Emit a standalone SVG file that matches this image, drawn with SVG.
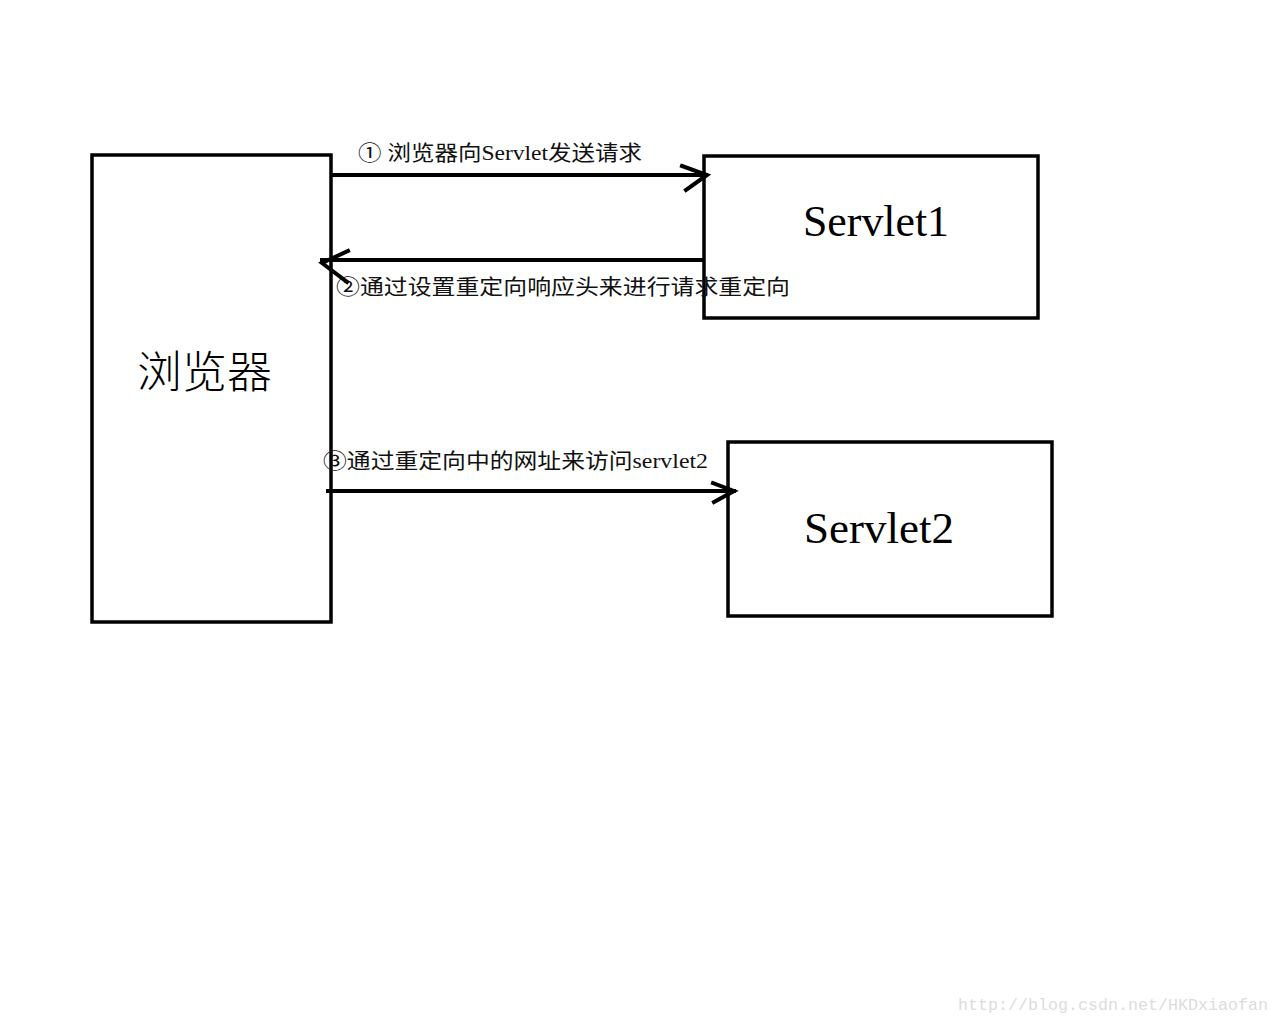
<svg xmlns="http://www.w3.org/2000/svg" width="1280" height="1024" viewBox="0 0 1280 1024">
<style>
.box{fill:#fff;stroke:#000;stroke-width:3.5}
.ln{fill:none;stroke:#000;stroke-width:4;stroke-linecap:square}
.lbl{font-family:"Liberation Serif","Noto Sans CJK SC",serif;font-size:21px;fill:#111}
.big{font-family:"Liberation Serif","Noto Sans CJK SC",serif;font-size:44px;fill:#000}
.wm{font-family:"Liberation Mono",monospace;font-size:17px;fill:#dcdcdc}
</style>
<rect width="1280" height="1024" fill="#fff"/>
<g id="browser">
<rect class="box" x="92" y="155" width="239" height="467"/>
<text class="big" x="137" y="388" font-size="40" textLength="135" lengthAdjust="spacingAndGlyphs" style="font-weight:300">浏览器</text>
</g>
<g id="servlet1">
<rect class="box" x="704" y="156" width="334" height="162"/>
<text class="big" x="803" y="236" textLength="146" lengthAdjust="spacingAndGlyphs">Servlet1</text>
</g>
<g id="servlet2">
<rect class="box" x="728" y="442" width="324" height="174"/>
<text class="big" x="804" y="543" textLength="150" lengthAdjust="spacingAndGlyphs">Servlet2</text>
</g>
<g id="connectors">
<path class="ln" d="M333 175 H706 M682 166 L707 175 L686 190"/>
<path class="ln" d="M702 260 H322 M348 251 L322 263 L347 282"/>
<path class="ln" d="M328 491 H734 M713 483 L734 491 L714 502"/>
</g>
<g id="labels">
<text class="lbl" x="358" y="160" textLength="284" lengthAdjust="spacingAndGlyphs">① 浏览器向Servlet发送请求</text>
<text class="lbl" x="336" y="294" textLength="454" lengthAdjust="spacingAndGlyphs">②通过设置重定向响应头来进行请求重定向</text>
<text class="lbl" x="323" y="468" textLength="385" lengthAdjust="spacingAndGlyphs">③通过重定向中的网址来访问servlet2</text>
</g>
<text class="wm" x="958" y="1010" textLength="310" lengthAdjust="spacingAndGlyphs">http://blog.csdn.net/HKDxiaofan</text>
</svg>
